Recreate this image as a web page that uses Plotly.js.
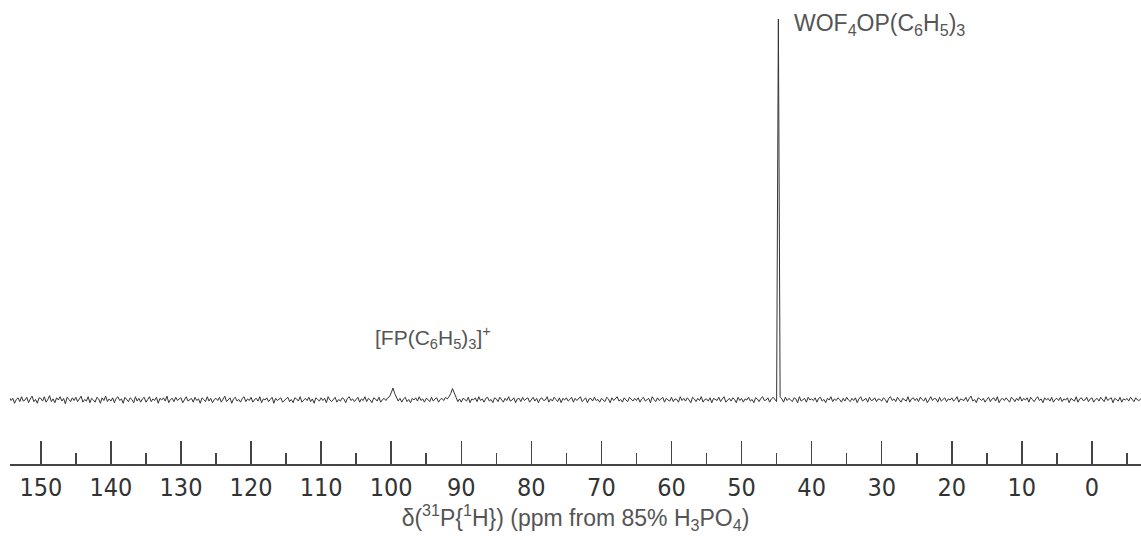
<!DOCTYPE html>
<html>
<head>
<meta charset="utf-8">
<script src="https://cdn.plot.ly/plotly-3.0.1.min.js"></script>
<style>html,body{margin:0;padding:0;background:#fff;}#chart{width:1141px;height:540px;}</style>
</head>
<body>
<div id="chart"></div>
<script>
// Spectrum acquisition grid (ppm): first point and spacing
const ppmStart = 155;
const ppmStep = -0.25;

// Intensities, 20 points (5 ppm) per row, from 155 ppm downward
const intensity = [
  0.2,-0.4,0.5,-0.1,0.3,-0.6,0.1,0.4,-0.3,0.6,-0.2,0.0,0.5,-0.5,0.2,0.7,-0.3,0.1,-0.6,0.4,
  0.3,-0.2,0.6,-0.4,0.1,0.8,-0.3,0.2,-0.5,0.4,0.0,0.6,-0.2,0.3,-0.7,0.5,0.1,-0.3,0.4,-0.1,
  0.5,-0.3,0.2,0.7,-0.4,0.1,-0.2,0.6,-0.5,0.3,0.0,-0.4,0.5,0.2,-0.6,0.4,-0.1,0.7,-0.3,0.2,
  -0.2,0.4,-0.5,0.3,0.6,-0.1,0.2,-0.6,0.5,0.0,-0.3,0.4,0.1,-0.5,0.6,-0.2,0.3,-0.4,0.2,0.5,
  -0.4,0.1,0.6,-0.3,0.2,-0.1,0.5,-0.6,0.3,0.0,0.4,-0.2,0.7,-0.5,0.1,0.3,-0.3,0.5,-0.1,0.2,
  0.4,-0.5,0.2,0.6,-0.2,0.0,0.3,-0.4,0.5,-0.1,0.2,-0.6,0.4,0.1,-0.3,0.6,-0.2,0.3,-0.5,0.1,
  0.3,-0.1,0.5,-0.4,0.2,0.7,-0.3,0.0,0.4,-0.6,0.2,0.5,-0.2,0.1,-0.4,0.3,0.6,-0.3,0.2,-0.1,
  0.5,-0.4,0.1,0.3,-0.2,0.6,-0.5,0.2,0.0,0.4,-0.3,0.1,0.5,-0.6,0.3,-0.1,0.2,0.4,-0.4,0.0,
  0.2,0.5,-0.3,0.1,-0.5,0.4,0.2,-0.2,0.6,-0.4,0.0,0.3,-0.1,0.5,-0.3,0.2,-0.6,0.4,0.1,-0.2,
  0.4,-0.1,0.3,-0.5,0.6,0.0,-0.3,0.2,0.5,-0.4,0.1,-0.2,0.4,0.2,-0.5,0.3,0.6,-0.1,0.2,-0.3,
  0.1,0.5,-0.4,0.2,-0.1,0.6,-0.3,0.3,0.0,-0.5,0.4,0.2,-0.2,0.5,-0.4,0.1,0.3,-0.1,0.4,0.6,
  1.3,2.2,1.2,0.5,-0.2,0.3,-0.4,0.2,0.5,-0.3,0.1,-0.5,0.3,0.0,0.4,-0.2,0.6,-0.1,0.2,-0.4,
  0.3,0.1,-0.3,0.5,-0.2,0.2,0.4,-0.4,0.1,0.3,-0.1,0.5,0.2,0.6,1.2,2.1,1.1,0.5,-0.3,0.2,
  -0.4,0.3,0.1,-0.2,0.5,-0.5,0.2,0.0,0.4,-0.3,0.6,-0.1,0.2,-0.4,0.3,0.5,-0.2,0.1,-0.5,0.4,
  0.2,-0.3,0.5,0.1,-0.4,0.3,-0.1,0.6,-0.2,0.0,0.4,-0.5,0.2,0.3,-0.3,0.5,-0.1,0.2,0.4,-0.4,
  0.1,0.5,-0.2,0.3,-0.5,0.2,0.4,-0.1,0.0,0.6,-0.4,0.2,-0.2,0.5,0.1,-0.3,0.4,-0.5,0.3,0.0,
  0.4,-0.2,0.1,0.5,-0.4,0.3,-0.1,0.2,0.6,-0.3,0.0,0.4,-0.5,0.2,0.3,-0.2,0.5,-0.1,0.1,-0.4,
  0.3,0.0,-0.3,0.5,0.2,-0.5,0.4,-0.1,0.3,0.6,-0.2,0.1,-0.4,0.4,0.0,-0.3,0.5,0.2,-0.2,0.3,
  -0.1,0.4,-0.4,0.2,0.5,-0.2,0.0,0.3,-0.5,0.6,0.1,-0.3,0.4,-0.1,0.2,0.5,-0.4,0.3,0.0,-0.2,
  0.5,-0.3,0.2,0.1,-0.4,0.6,-0.1,0.3,-0.2,0.4,0.0,-0.5,0.5,0.2,-0.3,0.3,-0.1,0.6,-0.4,0.1,
  0.2,-0.2,0.4,-0.5,0.3,0.1,-0.1,0.5,-0.3,0.2,0.6,-0.4,0.0,0.3,-0.2,0.4,0.1,-0.5,0.5,-0.1,
  0.3,-0.4,0.2,0.0,0.5,-0.2,0.1,-0.5,0.4,0.2,-0.3,0.3,0.6,-0.1,0.0,0.4,-0.4,0.2,0.5,0.1,
  -0.3,70,0.6,0.2,-0.4,0.5,-0.1,0.3,0.0,-0.3,0.4,0.2,-0.5,0.6,-0.2,0.1,0.3,-0.4,0.5,0.0,
  0.2,-0.1,0.4,-0.4,0.3,0.5,-0.2,0.1,-0.5,0.3,0.0,0.6,-0.3,0.2,-0.1,0.4,0.1,-0.4,0.3,-0.2,
  0.5,0.0,-0.3,0.3,-0.1,0.4,-0.5,0.2,0.6,-0.2,0.1,0.3,-0.4,0.5,-0.1,0.0,0.4,-0.3,0.2,0.1,
  -0.2,0.4,0.1,-0.5,0.3,0.6,-0.1,0.2,-0.3,0.5,0.0,-0.4,0.3,0.1,-0.2,0.6,-0.4,0.2,0.4,-0.1,
  0.3,-0.3,0.5,0.1,-0.2,0.4,-0.5,0.0,0.6,-0.1,0.3,0.2,-0.4,0.5,-0.2,0.1,0.4,-0.3,0.2,0.0,
  0.4,-0.2,0.1,0.6,-0.4,0.2,0.0,-0.1,0.5,-0.3,0.3,0.7,-0.2,0.1,-0.5,0.4,0.2,-0.1,0.3,-0.4,
  0.1,0.5,-0.3,0.2,0.4,-0.2,0.6,-0.5,0.1,0.3,-0.1,0.4,0.0,-0.4,0.5,0.2,-0.3,0.3,-0.1,0.6,
  -0.2,0.3,0.0,0.4,-0.4,0.5,0.1,-0.3,0.2,0.6,-0.1,0.2,-0.5,0.4,0.0,0.3,-0.2,0.5,-0.4,0.1,
  0.3,-0.1,0.5,-0.3,0.2,0.0,0.4,-0.5,0.3,0.1,-0.2,0.6,-0.4,0.2,0.4,-0.1,0.0,0.5,-0.3,0.2,
  0.4,-0.4,0.1,0.3,-0.2,0.5,0.0,-0.3,0.6,-0.1,0.2,0.4,-0.5,0.3,0.1,-0.2,0.5,-0.4,0.2,0.0,
  0.3,-0.2,0.5,0.1,-0.3,0.4,0.0,-0.1,0.3
];

// Peak labels
const peakLabels = ["WOF<sub>4</sub>OP(C<sub>6</sub>H<sub>5</sub>)<sub>3</sub>", "[FP(C<sub>6</sub>H<sub>5</sub>)<sub>3</sub>]<sup>+</sup>"];
const labelPpm = [42.8, 102.6];
const labelHeight = [68.9, 11.4];

const xTitle = "δ(<sup>31</sup>P{<sup>1</sup>H}) (ppm from 85% H<sub>3</sub>PO<sub>4</sub>)";

const trace = {
  type: 'scatter',
  mode: 'lines',
  x0: ppmStart,
  dx: ppmStep,
  y: intensity,
  line: {color: '#333333', width: 1},
  hoverinfo: 'skip'
};

const layout = {
  width: 1141,
  height: 540,
  margin: {l: 10, r: 0, t: 10, b: 76},
  paper_bgcolor: '#ffffff',
  plot_bgcolor: '#ffffff',
  showlegend: false,
  xaxis: {
    range: [154.4, -7.0],
    tick0: 0,
    dtick: 10,
    ticks: 'inside',
    ticklen: 23,
    tickwidth: 1.5,
    tickcolor: '#444444',
    showline: true,
    linecolor: '#444444',
    linewidth: 1.5,
    showgrid: false,
    zeroline: false,
    tickfont: {family: '"DejaVu Sans Condensed", "DejaVu Sans", sans-serif', size: 25, color: '#333333'},
    minor: {dtick: 5, tick0: 0, ticks: 'inside', ticklen: 11, tickwidth: 1.5, tickcolor: '#444444', showgrid: false},
    title: {text: xTitle, font: {family: '"Liberation Sans", Arial, sans-serif', size: 23, color: '#555555'}, standoff: 4}
  },
  yaxis: {
    visible: false,
    range: [-11.76, 71.65],
    fixedrange: true
  },
  annotations: peakLabels.map((t, i) => ({
    text: t,
    x: labelPpm[i],
    y: labelHeight[i],
    xref: 'x',
    yref: 'y',
    xanchor: 'left',
    yanchor: 'middle',
    showarrow: false,
    font: {family: '"Liberation Sans", Arial, sans-serif', size: i === 0 ? 23 : 21, color: '#555555'}
  }))
};

Plotly.newPlot('chart', [trace], layout, {staticPlot: true, displayModeBar: false});
</script>
</body>
</html>
